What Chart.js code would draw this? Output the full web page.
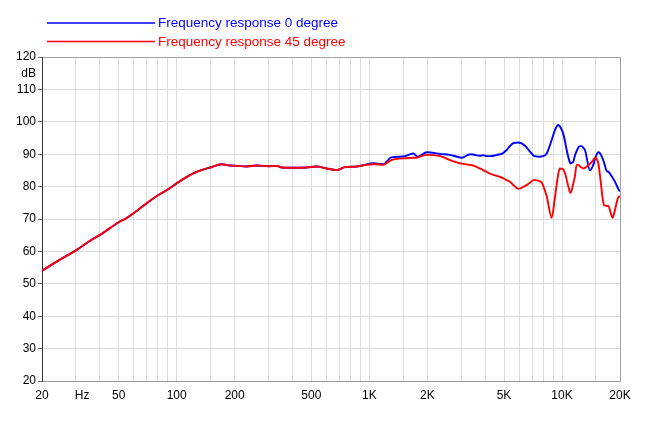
<!DOCTYPE html>
<html>
<head>
<meta charset="utf-8">
<script src="https://cdn.jsdelivr.net/npm/chart.js@4/dist/chart.umd.min.js"></script>
<style>
    html, body { margin: 0; padding: 0; background: #fff; }
</style>
</head>
<body>
<canvas id="frChart" width="650" height="422"></canvas>
<script>
(function () {
    // measurement points (Hz)
    var freqs = [20, 25, 30, 36, 41, 50, 55, 63, 71, 82, 90, 100, 108, 122, 138, 150, 171, 189, 205, 231,
        260, 300, 330, 351, 420, 473, 533, 600, 677, 747, 860, 930, 1050, 1136, 1180, 1300, 1500, 1690, 1780, 1990,
        2330, 2620, 2950, 3020, 3330, 3460, 3750, 3900, 4070, 4230, 4770, 4870, 5160, 5370, 5590, 5930, 6430, 6820, 7100, 7240,
        7690, 7840, 8330, 8840, 9200, 9570, 9750, 10080, 10370, 10490, 11000, 11090, 11450, 11660, 11920, 12150, 12400, 12640, 12880, 13160,
        13970, 14530, 14830, 15430, 15740, 16520, 16700, 17060, 17390, 18280, 18450, 18840, 19590, 20000];

    var resp0 = [54.0, 57.6, 60.3, 63.5, 65.5, 69.0, 70.3, 72.8, 75.2, 77.7, 79.1, 81.0, 82.3, 84.1, 85.3, 85.9, 86.9, 86.5, 86.4, 86.2,
        86.5, 86.3, 86.4, 85.9, 85.8, 85.9, 86.2, 85.6, 85.1, 86.0, 86.2, 86.6, 87.2, 87.0, 86.9, 89.0, 89.3, 90.2, 89.2, 90.6,
        90.1, 89.8, 89.0, 88.9, 90.0, 89.9, 89.5, 89.7, 89.4, 89.4, 90.0, 90.1, 91.3, 92.5, 93.4, 93.6, 92.6, 90.8, 89.6, 89.4,
        89.2, 89.3, 90.2, 94.4, 97.5, 99.0, 98.6, 96.9, 94.0, 92.3, 87.4, 87.2, 87.7, 89.5, 91.0, 92.0, 92.5, 92.5, 92.0, 91.3,
        85.0, 86.7, 88.5, 90.6, 90.3, 87.5, 86.5, 84.8, 84.6, 82.8, 82.4, 81.5, 79.3, 78.5];

    var resp45 = [54.0, 57.6, 60.3, 63.5, 65.5, 69.0, 70.3, 72.8, 75.2, 77.7, 79.1, 81.0, 82.3, 84.1, 85.3, 85.9, 86.9, 86.5, 86.4, 86.2,
        86.5, 86.3, 86.4, 85.9, 85.8, 85.9, 86.2, 85.6, 85.1, 86.0, 86.2, 86.6, 86.9, 86.8, 86.7, 88.2, 88.7, 88.9, 89.0, 89.8,
        89.4, 88.2, 87.2, 87.1, 86.7, 86.5, 85.6, 85.1, 84.5, 84.0, 83.0, 82.8, 82.0, 81.5, 80.5, 79.3, 80.2, 81.2, 82.0, 82.0,
        81.6, 81.3, 77.0, 70.4, 76.9, 84.0, 85.6, 85.5, 84.1, 83.0, 78.3, 78.1, 81.0, 83.1, 86.7, 86.7, 86.2, 85.9, 85.6, 85.8,
        87.0, 88.2, 88.9, 87.2, 83.5, 74.3, 74.2, 74.0, 74.0, 70.4, 70.8, 72.8, 76.7, 77.0];

    var seriesNames = ['Frequency response 0 degree', 'Frequency response 45 degree'];
    var seriesColors = ['#0000ff', '#ff0000'];

    var xGridFreqs = [20, 30, 40, 50, 60, 70, 80, 90, 100, 150, 200, 300, 400, 500, 600, 700, 800, 900,
        1000, 1500, 2000, 3000, 4000, 5000, 6000, 7000, 8000, 9000, 10000, 15000, 20000];
    var xTickLabels = { 20: '20', 50: '50', 100: '100', 200: '200', 500: '500', 1000: '1K', 2000: '2K',
        5000: '5K', 10000: '10K', 20000: '20K' };
    var hzLabelFreq = 32.3;
    var yTickValues = [20, 30, 40, 50, 60, 70, 80, 90, 100, 110, 120];
    var dbLabelValue = 115;

    var fontFamily = '"Liberation Sans", Arial, Helvetica, sans-serif';
    Chart.defaults.font.family = fontFamily;
    Chart.defaults.color = '#000';

    function toPoints(values) {
        return freqs.map(function (f, i) { return { x: f, y: values[i] }; });
    }

    var lineLegend = {
        id: 'lineLegend',
        afterDraw: function (chart) {
            var ctx = chart.ctx;
            ctx.save();
            ctx.font = '13.5px ' + fontFamily;
            ctx.textBaseline = 'middle';
            chart.data.datasets.forEach(function (ds, i) {
                var y = 23 + i * 18.6;
                ctx.strokeStyle = ds.borderColor;
                ctx.lineWidth = 1.5;
                ctx.beginPath();
                ctx.moveTo(47, y);
                ctx.lineTo(155, y);
                ctx.stroke();
                ctx.fillStyle = ds.borderColor;
                ctx.fillText(ds.label, 158, y + 0.5);
            });
            ctx.restore();
        }
    };

    new Chart(document.getElementById('frChart').getContext('2d'), {
        type: 'line',
        data: {
            datasets: [
                {
                    label: seriesNames[0],
                    data: toPoints(resp0),
                    borderColor: seriesColors[0],
                    borderWidth: 1.9,
                    pointRadius: 0,
                    cubicInterpolationMode: 'monotone',
                    order: 1,
                },
                {
                    label: seriesNames[1],
                    data: toPoints(resp45),
                    borderColor: seriesColors[1],
                    borderWidth: 1.9,
                    pointRadius: 0,
                    cubicInterpolationMode: 'monotone',
                    order: 0,
                },
            ],
        },
        options: {
            responsive: false,
            animation: false,
            layout: { padding: { top: 57, right: 30, left: 0, bottom: 0 } },
            plugins: {
                legend: { display: false },
                tooltip: { enabled: false },
            },
            scales: {
                x: {
                    type: 'logarithmic',
                    min: 20,
                    max: 20000,
                    afterBuildTicks: function (scale) {
                        scale.ticks = xGridFreqs.concat([hzLabelFreq]).map(function (v) { return { value: v }; });
                    },
                    afterFit: function (scale) { scale.height = 41; },
                    border: { color: '#999', width: 1 },
                    grid: {
                        drawTicks: false,
                        color: function (c) {
                            var v = c.tick && c.tick.value;
                            if (v === hzLabelFreq || v === 20) return 'rgba(0,0,0,0)';
                            if (v === 20000) return '#a0a0a0';
                            return '#dcdcdc';
                        },
                    },
                    ticks: {
                        autoSkip: false,
                        maxRotation: 0,
                        padding: 7,
                        font: { size: 12 },
                        callback: function (v) {
                            if (v === hzLabelFreq) return 'Hz';
                            return xTickLabels[v] || '';
                        },
                    },
                },
                y: {
                    min: 20,
                    max: 120,
                    afterBuildTicks: function (scale) {
                        scale.ticks = yTickValues.concat([dbLabelValue]).map(function (v) { return { value: v }; });
                    },
                    afterFit: function (scale) { scale.width = 42; },
                    border: { color: '#333', width: 1 },
                    grid: {
                        tickLength: 4,
                        color: function (c) {
                            var v = c.tick && c.tick.value;
                            if (v === dbLabelValue || v === 20) return 'rgba(0,0,0,0)';
                            if (v === 120) return '#a0a0a0';
                            return '#dcdcdc';
                        },
                        tickColor: function (c) {
                            return c.tick && c.tick.value === dbLabelValue ? 'rgba(0,0,0,0)' : '#666';
                        },
                    },
                    ticks: {
                        autoSkip: false,
                        padding: 2,
                        font: { size: 12 },
                        callback: function (v) { return v === dbLabelValue ? 'dB' : v; },
                    },
                },
            },
        },
        plugins: [lineLegend],
    });
})();
</script>
</body>
</html>
